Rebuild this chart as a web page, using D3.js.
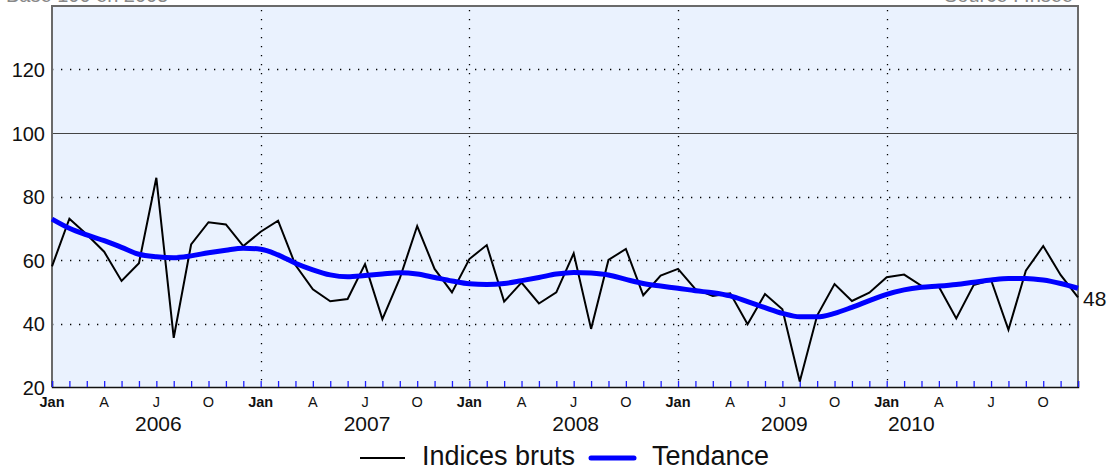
<!DOCTYPE html>
<html>
<head>
<meta charset="utf-8">
<script src="https://cdn.jsdelivr.net/npm/d3@7"></script>
<style>
  html, body { margin: 0; padding: 0; background: #fff; }
  svg { display: block; font-family: Arial, "Liberation Sans", sans-serif; }
</style>
</head>
<body>
<div id="root"><svg></svg></div>
<script>
const width = 1110, height = 468;

// monthly data, Jan 2006 .. Dec 2010
const years = [2006, 2007, 2008, 2009, 2010];
const yearLabelMonth = [6, 18, 30, 42, 49.3];   // month index where each year label sits
const monthLetters = ['Jan', '', '', 'A', '', '', 'J', '', '', 'O', '', ''];
const yTicks = [20, 40, 60, 80, 100, 120];

const raw = [
  58, 73, 68, 62.6, 53.4, 59, 85.9, 35.5, 64.9, 71.9, 71.2, 64.4,
  68.9, 72.4, 58.4, 50.8, 47, 47.7, 58.7, 41.4, 54.2, 70.7, 57.2, 49.8,
  60.3, 64.7, 46.9, 52.9, 46.3, 49.8, 62.1, 38.3, 60, 63.5, 48.9, 55.1,
  57.2, 50.8, 48.7, 49.5, 39.8, 49.3, 44.5, 21.7, 42.5, 52.4, 47.1, 49.7,
  54.6, 55.4, 51.9, 51.6, 41.6, 52.1, 53.7, 38, 56.6, 64.4, 55.3, 48.2
];
const trend = [
  72.9, 70, 67.9, 66.1, 64, 61.8, 61, 60.7, 61.3, 62.3, 63.1, 63.7,
  63.4, 61.6, 59, 56.9, 55.3, 54.7, 55.1, 55.6, 56, 55.6, 54.5, 53.4,
  52.5, 52.3, 52.6, 53.5, 54.5, 55.6, 56.1, 55.9, 55.3, 53.9, 52.6, 51.8,
  51.1, 50.3, 49.7, 48.7, 46.9, 45, 43.2, 42.1, 42.1, 43.2, 45.1, 47.2,
  49.2, 50.6, 51.4, 51.8, 52.3, 53, 53.7, 54.2, 54.2, 53.7, 52.6, 51.1
];
const lastLabel = '48';

const pLeft = 52, pRight = 1078, pTop = 6, pBottom = 387;

const x = d3.scaleLinear().domain([0, raw.length - 1]).range([pLeft, pRight]);
const y = d3.scaleLinear().domain([20, 140]).range([pBottom, pTop]);

const svg = d3.select('#root').select('svg')
    .attr('width', width)
    .attr('height', height);

// header texts, cut by the top of the picture
svg.append('text').attr('x', 6).attr('y', 2).attr('font-size', 20)
    .attr('fill', '#888').text('Base 100 en 2005');
svg.append('text').attr('x', 1073).attr('y', 2).attr('font-size', 20)
    .attr('text-anchor', 'end').attr('fill', '#888').text('Source : Insee');

// plot background
svg.append('rect')
    .attr('x', pLeft).attr('y', pTop)
    .attr('width', pRight - pLeft).attr('height', pBottom - pTop)
    .attr('fill', '#eaf2fe');

// horizontal grid
svg.append('g').selectAll('line')
    .data(yTicks.filter(d => d !== 20))
    .enter().append('line')
    .attr('x1', pLeft).attr('x2', pRight)
    .attr('y1', d => Math.round(y(d)) + 0.5)
    .attr('y2', d => Math.round(y(d)) + 0.5)
    .attr('stroke', d => d === 100 ? '#444' : '#000')
    .attr('stroke-width', d => d === 100 ? 1.2 : 1.3)
    .attr('stroke-dasharray', d => d === 100 ? null : '1.3,7.7');

// vertical grid at each January
svg.append('g').selectAll('line')
    .data(years.slice(1))
    .enter().append('line')
    .attr('x1', (d, i) => Math.round(x((i + 1) * 12)) + 0.5)
    .attr('x2', (d, i) => Math.round(x((i + 1) * 12)) + 0.5)
    .attr('y1', pTop + 4).attr('y2', pBottom)
    .attr('stroke', '#000')
    .attr('stroke-width', 1.3)
    .attr('stroke-dasharray', '1.3,7.7');

// frame
svg.append('path')
    .attr('d', `M${pLeft},${pBottom}V${pTop}H${pRight}V${pBottom}`)
    .attr('fill', 'none')
    .attr('stroke', '#6a6a6a')
    .attr('stroke-width', 2);

// month ticks
const xAxis = d3.axisBottom(x)
    .tickValues(d3.range(raw.length))
    .tickSize(-6)
    .tickFormat('');
const gx = svg.append('g')
    .attr('transform', `translate(0,${pBottom})`)
    .call(xAxis);
gx.select('.domain').attr('stroke', '#111').attr('stroke-width', 1.5);
gx.selectAll('.tick line').attr('stroke', '#2020ff').attr('stroke-width', 1.3);

// month letters
svg.append('g').selectAll('text')
    .data(d3.range(raw.length).filter(i => monthLetters[i % 12] !== ''))
    .enter().append('text')
    .attr('x', i => x(i))
    .attr('y', 407)
    .attr('text-anchor', 'middle')
    .attr('font-size', 14.5)
    .attr('font-weight', i => i % 12 === 0 ? 'bold' : 'normal')
    .attr('fill', '#111')
    .text(i => monthLetters[i % 12]);

// years
svg.append('g').selectAll('text')
    .data(years)
    .enter().append('text')
    .attr('x', (d, i) => x(yearLabelMonth[i]) + 2)
    .attr('y', 431)
    .attr('text-anchor', 'middle')
    .attr('font-size', 21)
    .attr('fill', '#111')
    .text(d => d);

// y axis labels
const yAxis = d3.axisLeft(y).tickValues(yTicks).tickSize(0).tickPadding(7);
const gy = svg.append('g')
    .attr('transform', `translate(${pLeft},0)`)
    .call(yAxis);
gy.select('.domain').remove();
gy.selectAll('text')
    .attr('font-size', 20)
    .attr('font-family', 'Arial, "Liberation Sans", sans-serif')
    .attr('fill', '#111')
    .attr('dy', '0.36em');

// series
svg.append('path')
    .attr('d', d3.line().x((d, i) => x(i)).y(d => y(d))(raw))
    .attr('fill', 'none')
    .attr('stroke', '#000')
    .attr('stroke-width', 2)
    .attr('stroke-linejoin', 'miter');

svg.append('path')
    .attr('d', d3.line().x((d, i) => x(i)).y(d => y(d)).curve(d3.curveMonotoneX)(trend))
    .attr('fill', 'none')
    .attr('stroke', '#0000ff')
    .attr('stroke-width', 5);

// last value label
svg.append('text')
    .attr('x', pRight + 5)
    .attr('y', y(raw[raw.length - 1]) + 9)
    .attr('font-size', 21)
    .attr('fill', '#111')
    .text(lastLabel);

// legend
const lg = svg.append('g');
lg.append('line').attr('x1', 360).attr('x2', 405).attr('y1', 458).attr('y2', 458)
    .attr('stroke', '#000').attr('stroke-width', 2);
lg.append('text').attr('x', 422).attr('y', 465).attr('font-size', 27)
    .attr('fill', '#111').text('Indices bruts');
lg.append('line').attr('x1', 591).attr('x2', 634).attr('y1', 458).attr('y2', 458)
    .attr('stroke', '#0000ff').attr('stroke-width', 5).attr('stroke-linecap', 'round');
lg.append('text').attr('x', 652).attr('y', 465).attr('font-size', 27)
    .attr('fill', '#111').text('Tendance');
</script>
</body>
</html>
